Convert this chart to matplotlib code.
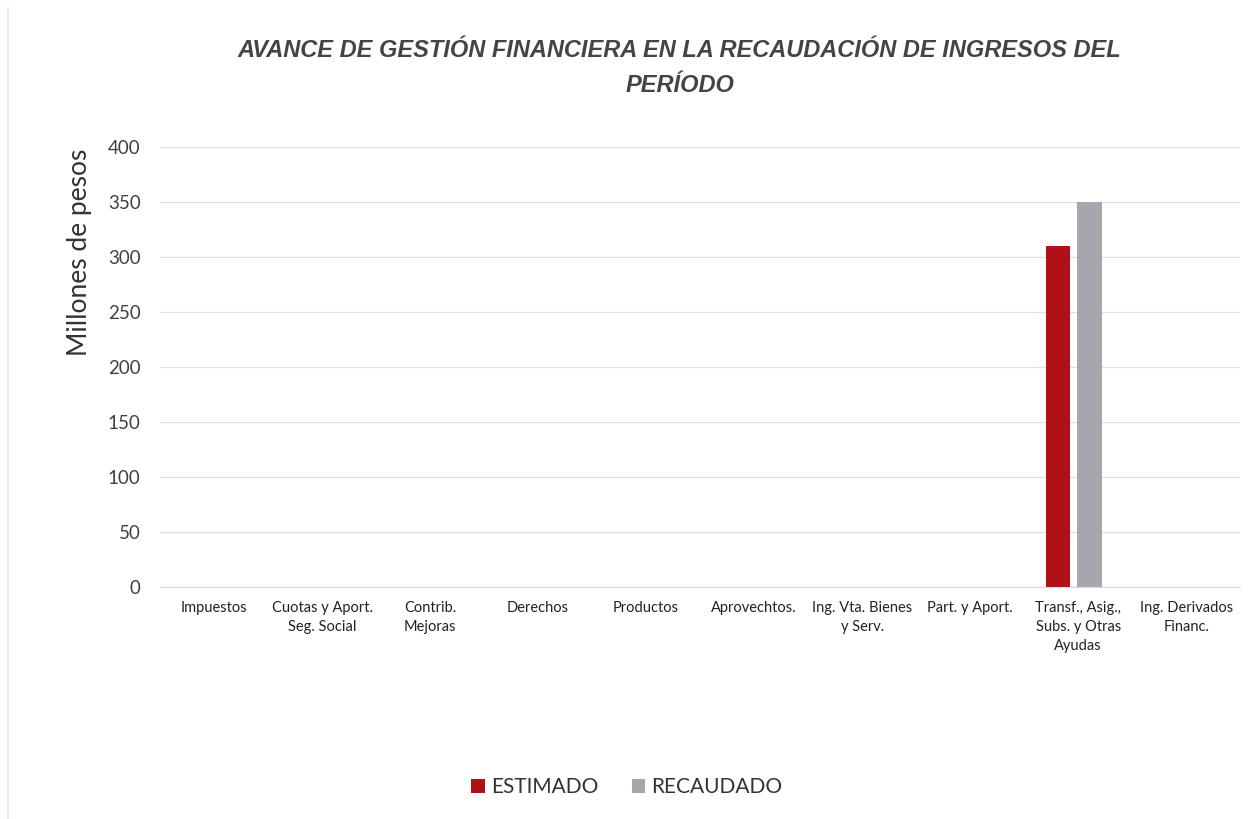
import numpy as np
import matplotlib.pyplot as plt
from matplotlib.lines import Line2D

# Categories and values (millones de pesos)
categorias = ['Impuestos', 'Cuotas y Aport.\nSeg. Social', 'Contrib.\nMejoras', 'Derechos',
              'Productos', 'Aprovechtos.', 'Ing. Vta. Bienes\ny Serv.', 'Part. y Aport.',
              'Transf., Asig.,\nSubs. y Otras\nAyudas', 'Ing. Derivados\nFinanc.']
estimado = [0, 0, 0, 0, 0, 0, 0, 0, 310, 0]
recaudado = [0, 0, 0, 0, 0, 0, 0, 0, 350, 0]

plt.rcParams['font.family'] = ['Lato', 'DejaVu Sans']

fig = plt.figure(figsize=(12.54, 8.19), dpi=100)
ax = fig.add_axes([0.1276, 0.2833, 0.8614, 0.5372])

x = np.arange(len(categorias))
w = 0.23
gap = 0.065
ax.bar(x - (w + gap) / 2 - 0.04, estimado, w, color='#b01116', label='ESTIMADO')
ax.bar(x + (w + gap) / 2 - 0.04, recaudado, w, color='#a6a6ae', label='RECAUDADO')

ax.set_xlim(-0.5, len(categorias) - 0.5)
ax.set_ylim(0, 400)
ax.set_yticks(range(0, 401, 50))
ax.grid(axis='y', color='#e0e0e0', linewidth=0.9)
ax.set_axisbelow(True)
for s in ['top', 'right', 'left']:
    ax.spines[s].set_visible(False)
ax.spines['bottom'].set_color('#d9d9d9')
ax.tick_params(axis='both', length=0)
ax.tick_params(axis='y', labelsize=13.5, colors='#404040', pad=14)
ax.set_xticks(x)
ax.set_xticklabels(categorias, fontsize=10.5, color='#222222', linespacing=1.45)
ax.tick_params(axis='x', pad=10)
ax.set_ylabel('Millones de pesos', fontsize=19, color='#333333')
ax.yaxis.set_label_coords(-0.063, 0.76)

title_font = dict(ha='center', va='center', fontsize=17, fontweight='bold', style='italic',
                  color='#444444', family=['Liberation Sans', 'DejaVu Sans'])
fig.text(0.542, 0.938, 'AVANCE DE GESTIÓN FINANCIERA EN LA RECAUDACIÓN DE INGRESOS DEL', **title_font)
fig.text(0.542, 0.896, 'PERÍODO', **title_font)

fig.legend(loc='center', bbox_to_anchor=(0.5, 0.039), ncol=2, frameon=False, fontsize=15,
           handlelength=0.65, handleheight=0.65, handletextpad=0.3, columnspacing=1.6,
           labelcolor='#333333')

# faint chart border on the left
fig.add_artist(Line2D([0.0065, 0.0065], [0.0, 0.99], color='#e8e8e8', linewidth=1.2))

fig.savefig('out.png', dpi=100)
